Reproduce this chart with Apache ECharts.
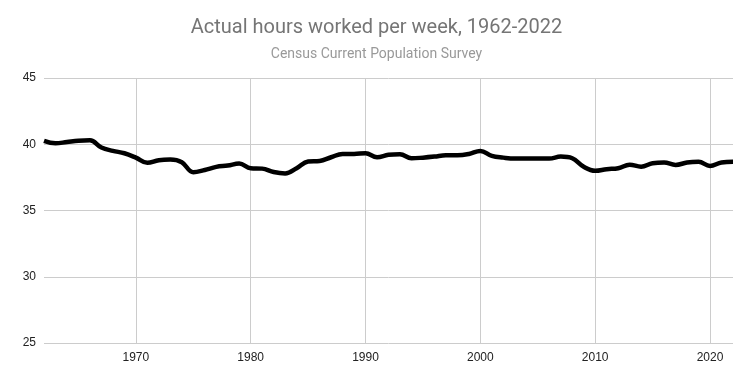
<!DOCTYPE html>
<html><head><meta charset="utf-8">
<script src="https://cdn.jsdelivr.net/npm/echarts@6/dist/echarts.min.js"></script>
<style>html,body{margin:0;padding:0;background:#fff}#c{width:753px;height:379px}</style>
</head><body><div id="c"></div>
<script>
const years = [1962,1963,1964,1965,1966,1967,1968,1969,1970,1971,1972,1973,1974,1975,1976,1977,1978,1979,1980,1981,1982,1983,1984,1985,1986,1987,1988,1989,1990,1991,1992,1993,1994,1995,1996,1997,1998,1999,2000,2001,2002,2003,2004,2005,2006,2007,2008,2009,2010,2011,2012,2013,2014,2015,2016,2017,2018,2019,2020,2021,2022];
const hours = [40.25,40.07,40.17,40.27,40.3,39.75,39.5,39.32,38.99,38.6,38.8,38.84,38.64,37.89,38.06,38.29,38.39,38.54,38.19,38.16,37.9,37.8,38.19,38.7,38.74,39.02,39.27,39.27,39.32,39.02,39.2,39.24,38.94,38.99,39.07,39.17,39.17,39.27,39.5,39.12,38.99,38.92,38.92,38.92,38.92,39.07,38.94,38.3,38.0,38.12,38.19,38.46,38.31,38.57,38.62,38.44,38.62,38.67,38.36,38.62,38.67];
const xTicks = [1970,1980,1990,2000,2010,2020];
const yTicks = [25,30,35,40,45];
const titleText = 'Actual hours worked per week, 1962-2022';
const subText = 'Census Current Population Survey';

const chart = echarts.init(document.getElementById('c'), null, {renderer:'canvas'});
chart.setOption({
  animation:false,
  title:{
    text:titleText, subtext:subText, left:'center', top:13, itemGap:9,
    textStyle:{fontFamily:'Roboto', fontSize:20, fontWeight:'normal', color:'#757575'},
    subtextStyle:{fontFamily:'Roboto', fontSize:14, color:'#999999'}
  },
  grid:{left:44, right:20, top:78, bottom:36, containLabel:false},
  xAxis:{
    type:'value', min:1962, max:2022,
    axisLine:{show:false},
    axisTick:{show:false, customValues:xTicks},
    axisLabel:{customValues:xTicks, formatter:(v)=>String(v), fontFamily:'Liberation Sans', fontSize:12, color:'#222', margin:9},
    splitLine:{show:true, lineStyle:{color:'#cccccc', width:1}}
  },
  yAxis:{
    type:'value', min:25, max:45, interval:5,
    axisLine:{show:false}, axisTick:{show:false},
    axisLabel:{fontFamily:'Liberation Sans', fontSize:12, color:'#222', margin:8},
    splitLine:{show:true, lineStyle:{color:'#cccccc', width:1}}
  },
  series:[{
    type:'line', data:years.map((y,i)=>[y,hours[i]]), smooth:0.4, showSymbol:false,
    lineStyle:{color:'#000', width:4.5}, clip:false
  }]
});
</script></body></html>
